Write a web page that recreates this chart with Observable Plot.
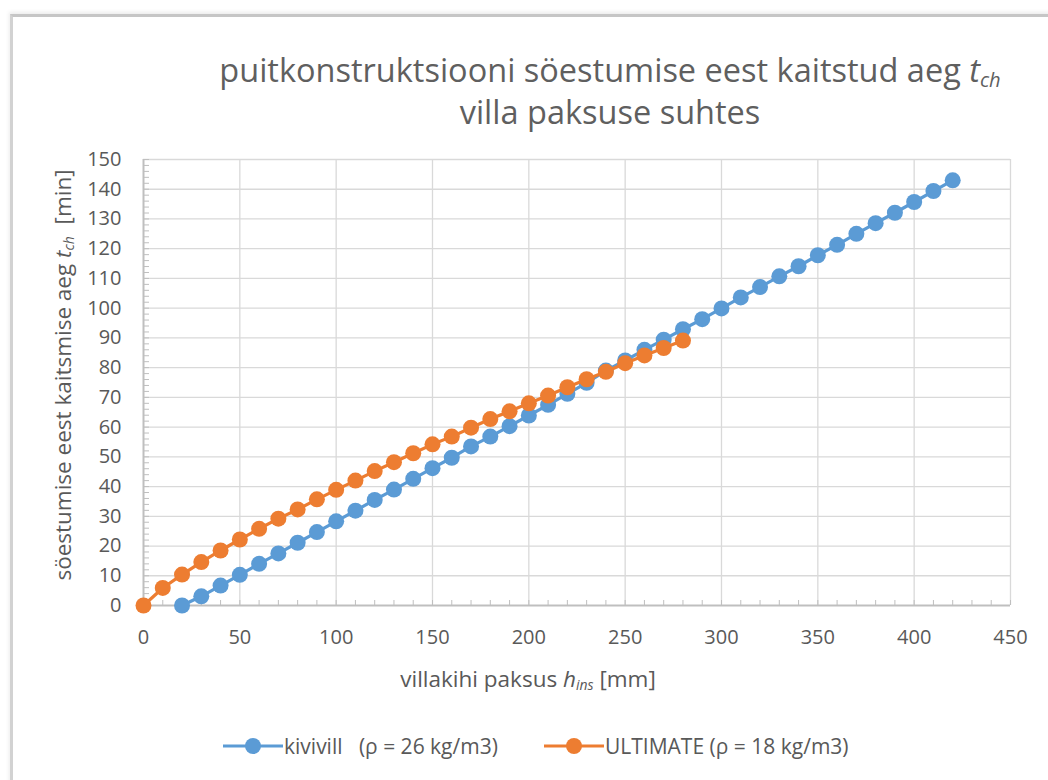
<!DOCTYPE html>
<html>
<head>
<meta charset="utf-8">
<script src="https://cdn.jsdelivr.net/npm/d3@7"></script>
<script src="https://cdn.jsdelivr.net/npm/@observablehq/plot@0.6"></script>
<style>
  html, body { margin: 0; padding: 0; background: #fff; }
  body { width: 1048px; height: 780px; position: relative; overflow: hidden; font-family: "Open Sans", sans-serif; color: #595959; }
  #frame { position: absolute; left: 10px; top: 14px; width: 1100px; height: 820px; border-top: 3px solid #c6c6c6; border-left: 3px solid #d2d2d2; box-shadow: -1px -2px 4px rgba(0,0,0,0.08); }
  #title { position: absolute; left: 160px; top: 49px; width: 900px; text-align: center; font-size: 32.5px; line-height: 42px; color: #5f5f5f; }
  #chart { position: absolute; left: 0; top: 140px; }
  #ylabel { position: absolute; left: 62px; top: 375px; transform: translate(-50%, -50%) rotate(-90deg); white-space: nowrap; font-size: 22.5px; }
  #xlabel { position: absolute; left: 528px; top: 678px; transform: translate(-50%, -50%); white-space: nowrap; font-size: 22.5px; }
  sub { font-size: 0.62em; vertical-align: -0.25em; line-height: 0; }
  #legend { position: absolute; top: 732px; left: 0; width: 1048px; height: 26px; font-size: 21px; }
  .item { position: absolute; top: 0; display: flex; align-items: center; white-space: pre; }
</style>
</head>
<body>
<div id="frame"></div>
<div id="title">puitkonstruktsiooni söestumise eest kaitstud aeg <i>t<sub>ch</sub></i><br>villa paksuse suhtes</div>
<div id="chart"></div>
<div id="ylabel">söestumise eest kaitsmise aeg <i>t<sub>ch</sub></i>&nbsp; [min]</div>
<div id="xlabel">villakihi paksus <i>h<sub>ins</sub></i> [mm]</div>
<div id="legend"></div>
<script>
// ---- data ----
const kivivillX = [20,30,40,50,60,70,80,90,100,110,120,130,140,150,160,170,180,190,200,210,220,230,240,250,260,270,280,290,300,310,320,330,340,350,360,370,380,390,400,410,420];
const kivivillY = [0,3.1,6.7,10.3,14.0,17.5,21.1,24.7,28.3,31.9,35.5,39.0,42.6,46.2,49.7,53.5,56.8,60.3,63.9,67.5,71.2,74.9,79.0,82.4,86.0,89.4,92.9,96.3,99.9,103.6,107.1,110.7,114.1,117.8,121.3,125.0,128.6,132.1,135.7,139.4,143.0];
const ultimateX = [0,10,20,30,40,50,60,70,80,90,100,110,120,130,140,150,160,170,180,190,200,210,220,230,240,250,260,270,280];
const ultimateY = [0,5.9,10.4,14.6,18.5,22.2,25.8,29.2,32.3,35.7,38.9,42.0,45.2,48.2,51.2,54.2,56.8,59.8,62.7,65.3,68.0,70.6,73.4,76.1,78.6,81.5,84.1,86.6,89.1];
const seriesNames = ["kivivill   (ρ = 26 kg/m3)", "ULTIMATE (ρ = 18 kg/m3)"];
const seriesColors = ["#5B9BD5", "#ED7D31"];
const xTicks = [0,50,100,150,200,250,300,350,400,450];
const yTicks = [0,10,20,30,40,50,60,70,80,90,100,110,120,130,140,150];
const xMinor = d3.range(0, 451, 10);
const yMinor = d3.range(0, 151, 2);

const kivivill = kivivillX.map((x, i) => ({x, y: kivivillY[i]}));
const ultimate = ultimateX.map((x, i) => ({x, y: ultimateY[i]}));

const chart = Plot.plot({
  width: 1048,
  height: 520,
  marginLeft: 143,
  marginRight: 38,
  marginTop: 19,
  marginBottom: 55,
  style: {fontFamily: "Open Sans, sans-serif", color: "#595959", background: "transparent", overflow: "visible"},
  x: {domain: [0, 450]},
  y: {domain: [0, 150]},
  marks: [
    Plot.gridX(xTicks.slice(1), {stroke: "#d9d9d9", strokeOpacity: 1, strokeWidth: 1.3}),
    Plot.gridY(yTicks.slice(1), {stroke: "#d9d9d9", strokeOpacity: 1, strokeWidth: 1.3}),
    Plot.axisX({ticks: xMinor, tickSize: -5, stroke: "#bfbfbf", strokeWidth: 1, text: null, label: null}),
    Plot.axisY({ticks: yMinor, tickSize: -6, stroke: "#bfbfbf", strokeWidth: 1, text: null, label: null}),
    Plot.ruleY([0], {stroke: "#bfbfbf", strokeWidth: 2}),
    Plot.ruleX([0], {stroke: "#bfbfbf", strokeWidth: 2}),
    Plot.axisX({ticks: xTicks, tickSize: 0, tickPadding: 24, fontSize: 20, fill: "#595959", label: null}),
    Plot.axisY({ticks: yTicks, tickSize: 0, tickPadding: 22, fontSize: 20, fill: "#595959", label: null}),
    Plot.line(kivivill, {x: "x", y: "y", stroke: seriesColors[0], strokeWidth: 3.2}),
    Plot.dot(kivivill, {x: "x", y: "y", r: 8, fill: seriesColors[0], stroke: null}),
    Plot.line(ultimate, {x: "x", y: "y", stroke: seriesColors[1], strokeWidth: 3.2}),
    Plot.dot(ultimate, {x: "x", y: "y", r: 8, fill: seriesColors[1], stroke: null})
  ]
});
document.getElementById("chart").appendChild(chart);

// legend
const legend = document.getElementById("legend");
const legendLeft = [222, 543];
seriesNames.forEach((name, i) => {
  const item = document.createElement("div");
  item.className = "item";
  item.style.left = legendLeft[i] + "px";
  item.innerHTML = `<svg width="62" height="26"><line x1="1" y1="13" x2="61" y2="13" stroke="${seriesColors[i]}" stroke-width="3.2"/><circle cx="31" cy="13" r="8" fill="${seriesColors[i]}"/></svg><span>${name}</span>`;
  legend.appendChild(item);
});
</script>
</body>
</html>
